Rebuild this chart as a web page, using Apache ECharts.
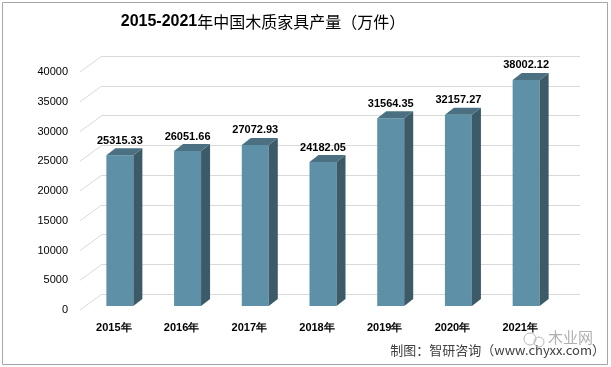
<!DOCTYPE html>
<html><head><meta charset="utf-8">
<script src="https://cdn.jsdelivr.net/npm/echarts@6/dist/echarts.min.js"></script>
<style>html,body{margin:0;padding:0;background:#fff}#c{width:611px;height:367px}</style>
</head><body><div id="c"></div>
<script>
const categories = ['2015年','2016年','2017年','2018年','2019年','2020年','2021年'];
const values = [25315.33, 26051.66, 27072.93, 24182.05, 31564.35, 32157.27, 38002.12];
const yTicks = [0,5000,10000,15000,20000,25000,30000,35000,40000];

const chart = echarts.init(document.getElementById('c'));
const DX = 22, DY = 16;      // wall depth
const BDX = 9, BDY = 7;      // bar depth
const font = '"Liberation Sans", Arial, sans-serif';

chart.setOption({
  animation: false,
  title: {
    text: '{a|2015-2021}{b|年中国木质家具产量（万件）}',
    left: 258, top: 9, textAlign: 'center',
    textStyle: { rich: {
      a: { fontFamily: font, fontWeight: 'bold', fontSize: 16, color: '#000' },
      b: { fontFamily: '"Noto Sans CJK SC"', fontWeight: 'normal', fontSize: 16, color: '#000' }
    }}
  },
  grid: [
    { left: 80, width: 474, top: 72, height: 238 },   // front plane
    { left: 86, width: 474, top: 68, height: 238 },   // bar plane
    { left: 102, width: 478, top: 56, height: 238 }   // back wall
  ],
  xAxis: [
    { gridIndex: 0, type: 'category', data: categories, axisLine: {show:false}, axisTick: {show:false},
      axisLabel: { fontFamily: font, fontWeight: 'bold', fontSize: 11, color: '#000', margin: 12 } },
    { gridIndex: 1, type: 'category', data: categories, show: false },
    { gridIndex: 2, type: 'value', min: 0, max: 1, show: false }
  ],
  yAxis: [
    { gridIndex: 0, type: 'value', min: 0, max: 40000, interval: 5000,
      axisLine: {show:false}, axisTick: {show:false}, splitLine: {show:false},
      axisLabel: { fontFamily: font, fontSize: 11, color: '#000', margin: 12, formatter: v => String(v) } },
    { gridIndex: 1, type: 'value', min: 0, max: 40000, interval: 5000, show: false },
    { gridIndex: 2, type: 'value', min: 0, max: 40000, interval: 5000,
      axisLine: {show:false}, axisTick: {show:false}, axisLabel: {show:false},
      splitLine: { show: true, lineStyle: { color: '#d9d9d9', width: 1 } } }
  ],
  series: [
    {
      type: 'custom', xAxisIndex: 2, yAxisIndex: 2, silent: true,
      data: yTicks.map(v => [0, v]),
      renderItem: function (params, api) {
        const p = api.coord([0, api.value(1)]);
        return { type: 'line', shape: { x1: p[0] - DX, y1: p[1] + DY, x2: p[0], y2: p[1] },
          style: { stroke: '#d9d9d9', lineWidth: 1 } };
      }
    },
    {
      type: 'custom', xAxisIndex: 1, yAxisIndex: 1,
      data: values.map((v, i) => [i, v]),
      renderItem: function (params, api) {
        const v = api.value(1);
        const b = api.coord([api.value(0), 0]);
        const t = api.coord([api.value(0), v]);
        const w = 27;
        const x1 = b[0] - w / 2, x2 = b[0] + w / 2;
        const yb = b[1], yt = t[1];
        return { type: 'group', children: [
          { type: 'rect', shape: { x: x1, y: yt, width: w, height: yb - yt },
            style: { fill: '#5e90a8' } },
          { type: 'polygon', shape: { points: [[x2, yt], [x2 + BDX, yt - BDY], [x2 + BDX, yb - BDY], [x2, yb]] },
            style: { fill: '#3c5a68' } },
          { type: 'polygon', shape: { points: [[x1, yt], [x1 + BDX, yt - BDY], [x2 + BDX, yt - BDY], [x2, yt]] },
            style: { fill: '#4a7082' } },
          { type: 'text', x: b[0], y: yt - BDY - 2,
            style: { text: v.toFixed(2), fontFamily: font, fontWeight: 'bold', fontSize: 11, fill: '#000',
              textAlign: 'center', textVerticalAlign: 'bottom' } }
        ]};
      }
    }
  ],
  graphic: [
    { type: 'rect', shape: { x: 2.5, y: 2.5, width: 605, height: 362 },
      style: { fill: 'none', stroke: '#a6a6a6', lineWidth: 1 }, silent: true },
    { type: 'text', right: 6, top: 344,
      style: { text: '制图：智研咨询（www.chyxx.com）', fontFamily: '"Noto Sans CJK SC"', fontSize: 13, fill: '#404040' } },
    { type: 'text', left: 548, top: 330,
      style: { text: '木业网', fontFamily: '"Noto Sans CJK SC"', fontSize: 15, fill: '#b0b0b0' } },
    { type: 'circle', shape: { cx: 530, cy: 339, r: 6 }, style: { fill: 'none', stroke: '#b8b8b8', lineWidth: 1 } },
    { type: 'circle', shape: { cx: 539, cy: 342, r: 5 }, style: { fill: 'none', stroke: '#b8b8b8', lineWidth: 1 } }
  ]
});
</script></body></html>
